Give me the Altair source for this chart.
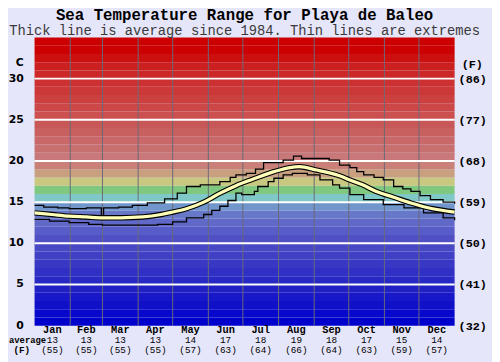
import altair as alt
import pandas as pd

# ---------------- data ----------------
months = ["Jan", "Feb", "Mar", "Apr", "May", "Jun", "Jul", "Aug", "Sep", "Oct", "Nov", "Dec"]
month_start = [0, 31, 59, 90, 120, 151, 181, 212, 243, 273, 304, 334]
month_end = [31, 59, 90, 120, 151, 181, 212, 243, 273, 304, 334, 365]
avg_c = ["13", "13", "13", "13", "14", "17", "18", "19", "18", "17", "15", "14"]
avg_f = ["(55)", "(55)", "(55)", "(55)", "(57)", "(63)", "(64)", "(66)", "(64)", "(63)", "(59)", "(57)"]

left_ticks = [0, 5, 10, 15, 20, 25, 30]
right_labels = ["(32)", "(41)", "(50)", "(59)", "(68)", "(77)", "(86)"]

avg_day = [0, 15, 30, 45, 59, 75, 94, 110, 120, 132, 147, 160, 175, 190, 208, 222, 230,
           245, 265, 274, 285, 297, 312, 327, 346, 365]
avg_temp = [13.7, 13.5, 13.3, 13.2, 13.1, 13.1, 13.2, 13.5, 13.8, 14.2, 15.0, 16.0, 17.0,
            17.8, 18.7, 19.2, 19.3, 18.9, 18.2, 17.7, 17.1, 16.3, 15.6, 14.9, 14.2, 13.8]

max_day = [0, 8, 20, 30, 45, 58, 60, 73, 85, 98, 113, 124, 132, 144, 161, 170, 175, 184,
           192, 199, 216, 225, 232, 248, 256, 265, 274, 280, 286, 295, 303, 312, 320, 327,
           335, 344, 355, 365]
max_temp = [14.6, 14.4, 14.3, 14.2, 14.3, 13.0, 14.3, 14.4, 14.6, 14.9, 15.4, 16.1, 16.9,
            17.1, 17.5, 18.0, 18.3, 18.5, 19.0, 19.8, 20.1, 20.6, 20.3, 20.3, 20.1, 19.5,
            19.2, 18.7, 18.3, 18.0, 17.7, 16.9, 16.6, 16.3, 15.8, 15.3, 15.0, 14.8]

min_day = [0, 13, 30, 47, 59, 90, 107, 120, 132, 147, 154, 161, 168, 175, 180, 191, 194,
           203, 208, 216, 224, 237, 248, 259, 265, 274, 286, 303, 321, 338, 355, 365]
min_temp = [12.9, 12.7, 12.5, 12.3, 12.2, 12.2, 12.3, 12.6, 13.1, 13.5, 14.0, 14.5, 15.2,
            16.1, 15.9, 16.3, 16.9, 17.5, 17.9, 18.3, 18.5, 18.3, 17.7, 17.1, 16.7, 15.9,
            15.3, 14.7, 14.3, 13.7, 13.1, 12.8]

# background band colours, one per degree C (style)
band_colors = [
    "#0000cc", "#0808cc", "#1010c8", "#1818c8", "#2020c4", "#2828c4", "#3030c4", "#3838c4",
    "#4040c4", "#4848c4", "#5050c4", "#585cc8", "#6068c8", "#6878c8", "#7096cc", "#80c8c8",
    "#80c880", "#c8c880", "#c8a080", "#c88078", "#c87878", "#c87070", "#c86868", "#c86060",
    "#c85858", "#cc5050", "#cc4848", "#cc4040", "#cc3838", "#cc3030", "#cc2828", "#cc2020",
    "#cc1010", "#cc0000", "#cc0000",
]

W, H = 427, 293
BG = "#e6e6fa"
MONO = "Liberation Mono"

bands = pd.DataFrame({"lo": list(range(35)), "hi": list(range(1, 36)), "col": band_colors})
mdf = pd.DataFrame({"m": months, "s": month_start, "e": month_end, "c": avg_c, "f": avg_f})
mdf["mid"] = (mdf["s"] + mdf["e"]) / 2
vlines = pd.DataFrame({"d": month_start[1:]})
hlines = pd.DataFrame({"t": left_ticks[1:]})
ticks = pd.DataFrame({"t": left_ticks, "lab": [str(v) for v in left_ticks], "f": right_labels})
avg_df = pd.DataFrame({"d": avg_day, "t": avg_temp})
max_df = pd.DataFrame({"d": max_day, "t": max_temp})
min_df = pd.DataFrame({"d": min_day, "t": min_temp})

xs = alt.Scale(domain=[0, 365], nice=False, zero=False)
ys = alt.Scale(domain=[0, 35], nice=False, zero=False)
X = lambda f: alt.X(f, type="quantitative", scale=xs, axis=None)
Y = lambda f: alt.Y(f, type="quantitative", scale=ys, axis=None)

band_layer = alt.Chart(bands).mark_rect().encode(
    x=alt.value(0), x2=alt.value(W), y=Y("lo"), y2="hi", color=alt.Color("col:N", scale=None)
)
vline_layer = alt.Chart(vlines).mark_rule(color="#6a6a78", strokeWidth=1).encode(x=X("d"))
hline_layer = alt.Chart(hlines).mark_rule(color="white", strokeWidth=2).encode(y=Y("t"))

max_layer = alt.Chart(max_df).mark_line(color="black", strokeWidth=1.3, interpolate="step-after").encode(
    x=X("d"), y=Y("t"))
min_layer = alt.Chart(min_df).mark_line(color="black", strokeWidth=1.3, interpolate="step-after").encode(
    x=X("d"), y=Y("t"))
avg_out = alt.Chart(avg_df).mark_line(color="black", strokeWidth=5.5, interpolate="monotone").encode(
    x=X("d"), y=Y("t"))
avg_in = alt.Chart(avg_df).mark_line(color="#ffffb8", strokeWidth=3.3, interpolate="monotone").encode(
    x=X("d"), y=Y("t"))

left_lab = alt.Chart(ticks).mark_text(
    align="right", baseline="middle", font="DejaVu Sans", fontWeight="bold", fontSize=11, color="black"
).encode(x=alt.value(-11), y=Y("t"), text="lab:N")
right_lab = alt.Chart(ticks).mark_text(
    align="left", baseline="middle", font=MONO, fontWeight="bold", fontSize=12, color="black"
).encode(x=alt.value(W + 4), y=Y("t"), text="f:N")

mon_lab = alt.Chart(mdf).mark_text(
    align="center", baseline="alphabetic", font=MONO, fontWeight="bold", fontSize=10.5, color="black"
).encode(x=X("mid"), y=alt.value(H + 7.5), text="m:N")
c_lab = alt.Chart(mdf).mark_text(
    align="center", baseline="alphabetic", font=MONO, fontSize=9.5, color="black"
).encode(x=X("mid"), y=alt.value(H + 18), text="c:N")
f_lab = alt.Chart(mdf).mark_text(
    align="center", baseline="alphabetic", font=MONO, fontSize=9.5, color="black"
).encode(x=X("mid"), y=alt.value(H + 28), text="f:N")

extra = pd.DataFrame({
    "txt": ["Sea Temperature Range for Playa de Baleo",
            "Thick line is average since 1984. Thin lines are extremes",
            "C", "(F)", "average", "(F)"],
    "px": [W / 2, W / 2, -11, W + 18, -26, -13],
    "py": [-17.5, -2.5, 26.5, 27, H + 18, H + 28],
    "al": ["center", "center", "right", "center", "left", "center"],
    "fs": [16, 14, 11, 12, 9, 9.5],
    "bold": [True, False, True, True, True, True],
    "col": ["black", "#3a3a3a", "black", "black", "black", "black"],
    "font": [MONO, MONO, "DejaVu Sans", MONO, MONO, MONO],
    "bl": ["alphabetic", "alphabetic", "middle", "middle", "alphabetic", "alphabetic"],
})


def txt(i):
    d = extra.iloc[[i]]
    r = d.iloc[0]
    kw = dict(align=r["al"], baseline=r["bl"], font=r["font"], fontSize=float(r["fs"]), color=r["col"])
    if r["bold"]:
        kw["fontWeight"] = "bold"
    return alt.Chart(d[["txt"]]).mark_text(**kw).encode(
        x=alt.value(float(r["px"])), y=alt.value(float(r["py"])), text="txt:N")


chart = alt.layer(
    band_layer, vline_layer, hline_layer, max_layer, min_layer, avg_out, avg_in,
    left_lab, right_lab, mon_lab, c_lab, f_lab,
    *[txt(i) for i in range(len(extra))],
).properties(
    width=W, height=H,
    autosize=alt.AutoSizeParams(type="none"),
    padding={"left": 27, "top": 27, "right": 38, "bottom": 34},
    background=BG,
).configure_view(stroke=None)

chart.save("out.html", embed_options={"renderer": "svg", "actions": False})
